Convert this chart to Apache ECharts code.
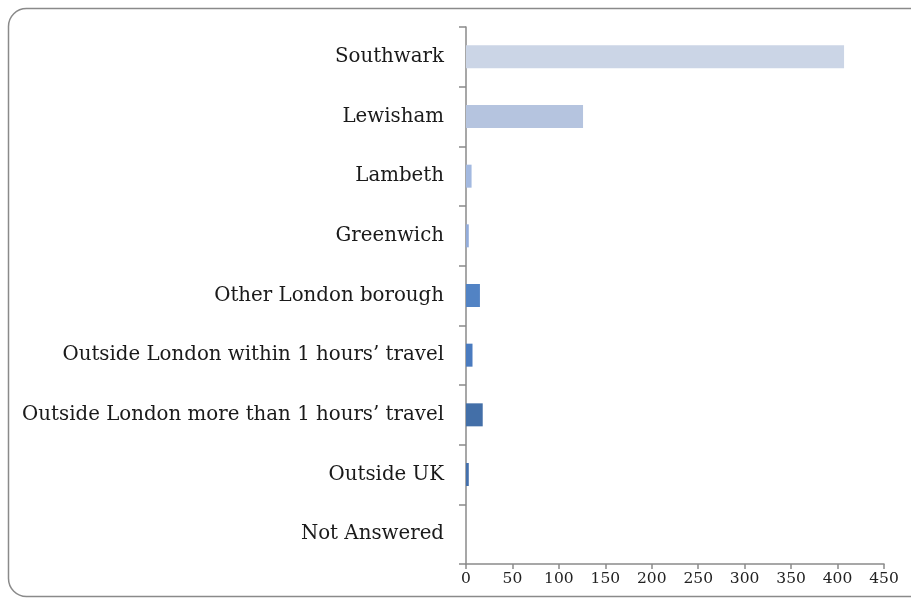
<!DOCTYPE html>
<html>
<head>
<meta charset="utf-8">
<script src="https://cdn.jsdelivr.net/npm/echarts@6/dist/echarts.min.js"></script>
<style>html,body{margin:0;padding:0;background:#fff}#c{width:911px;height:598px}</style>
</head>
<body>
<div id="c"></div>
<script>
var categories = ["Southwark","Lewisham","Lambeth","Greenwich","Other London borough","Outside London within 1 hours\u2019 travel","Outside London more than 1 hours\u2019 travel","Outside UK","Not Answered"];
var values = [407, 126, 6, 3, 15, 7, 18, 3, 0];
var barColors = ["#CBD5E6","#B5C4DF","#A3B9E0","#93ACDA","#5283C4","#4A7BBF","#436FA8","#4470AC","#3F68A0"];
var xTicks = [0, 50, 100, 150, 200, 250, 300, 350, 400, 450];

var chart = echarts.init(document.getElementById('c'), null, {renderer:'canvas'});
var font = "'DejaVu Serif', serif";
chart.setOption({
  animation: false,
  graphic: [{
    type: 'rect',
    shape: {x: 8.5, y: 8.5, width: 920, height: 588, r: 18},
    style: {fill: 'none', stroke: '#8a8a8a', lineWidth: 1.5},
    silent: true, z: -1
  }],
  grid: {left: 466, right: 27, top: 27, bottom: 34, containLabel: false},
  xAxis: {
    type: 'value', min: xTicks[0], max: xTicks[xTicks.length-1], interval: 50,
    axisLine: {show: true, lineStyle: {color: '#8a8a8a', width: 1.5}},
    axisTick: {show: true, length: 5, lineStyle: {color: '#8a8a8a', width: 1.5}},
    splitLine: {show: false},
    axisLabel: {color: '#222', fontFamily: font, fontSize: 15.5, margin: 7}
  },
  yAxis: {
    type: 'category', data: categories, inverse: true,
    axisLine: {show: true, lineStyle: {color: '#8a8a8a', width: 1.5}},
    axisTick: {show: true, length: 7, lineStyle: {color: '#8a8a8a', width: 1.5}},
    axisLabel: {color: '#1a1a1a', fontFamily: font, fontSize: 19.8, margin: 22}
  },
  series: [{
    type: 'bar',
    barWidth: 23,
    data: values.map(function(v, i){ return {value: v, itemStyle: {color: barColors[i]}}; })
  }]
});
</script>
</body>
</html>
